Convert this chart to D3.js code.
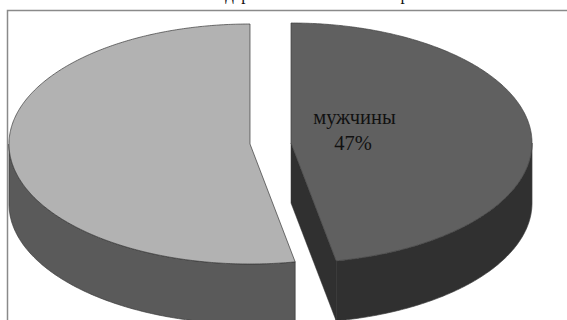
<!DOCTYPE html>
<html>
<head>
<meta charset="utf-8">
<script src="https://cdn.jsdelivr.net/npm/d3@7"></script>
<style>
html,body{margin:0;padding:0;background:#fff;overflow:hidden}
svg{display:block}
text{font-family:"Liberation Serif",serif;fill:#111}
</style>
</head>
<body>
<script>
// Share of respondents by gender
const categories = ["мужчины", "женщины"];
const shares = [47, 53];
const labelledCategories = ["мужчины"];
const topColours = ["#606060", "#b2b2b2"];
const wallColours = ["#303030", "#5a5a5a"];
const strokeColours = ["#404040", "#3a3a3a"];
const chartTitle = "Гендерный состав жителей района";

const W = 567, H = 320;
const rx = 241, ry = 120, depth = 60;
const centres = [{cx: 291, cy: 143}, {cx: 250, cy: 144}];

const svg = d3.select("body").append("svg").attr("width", W).attr("height", H);

// Clipped heading above the plot frame
svg.append("text").attr("x", 200).attr("y", 0).attr("font-size", 17).text(chartTitle);

// Plot frame: only its left and top sides fall inside the page
svg.append("path")
  .attr("d", d3.line()([[7.5, H], [7.5, 10.5], [W, 10.5]]))
  .attr("fill", "none").attr("stroke", "#8a8a8a").attr("stroke-width", 1.5);

const slices = d3.pie().sort(null).value(d => d)(shares);

// Pie angles run clockwise from twelve o'clock and are tilted into an ellipse
const xUnit = d3.scaleLinear().domain([-1, 1]).range([-rx, rx]);
const yUnit = d3.scaleLinear().domain([-1, 1]).range([-ry, ry]);
const rim = (c, a, drop = 0) => [c.cx + xUnit(Math.sin(a)), c.cy + yUnit(-Math.cos(a)) + drop];
const arcPoints = (c, a0, a1, drop = 0) => {
  const n = Math.ceil(Math.abs(a1 - a0) / 0.01);
  return d3.range(n + 1).map(i => rim(c, a0 + (a1 - a0) * i / n, drop));
};
const line = d3.line();
const closed = pts => line(pts) + "Z";

slices.forEach((s, i) => {
  const c = centres[i];
  const g = svg.append("g");
  const wallFill = wallColours[i], stroke = strokeColours[i];
  const centre = [c.cx, c.cy];

  // Outer wall: only the part of the rim that faces the viewer
  const wallStart = Math.max(s.startAngle, Math.PI / 2);
  const wallEnd = Math.min(s.endAngle, 3 * Math.PI / 2);
  const upper = arcPoints(c, wallStart, wallEnd);
  const lower = arcPoints(c, wallEnd, wallStart, depth);
  g.append("path").attr("d", closed(upper.concat(lower)))
    .attr("fill", wallFill).attr("stroke", stroke).attr("stroke-width", 0.7);

  // Cut face, visible when the slice's closing edge turns toward the viewer
  if (i === 0) {
    const edge = rim(c, s.endAngle);
    g.append("path")
      .attr("d", closed([centre, edge, [edge[0], edge[1] + depth], [c.cx, c.cy + depth]]))
      .attr("fill", wallFill).attr("stroke", wallFill).attr("stroke-width", 0.5);
  }

  // Top surface
  g.append("path")
    .attr("d", closed([centre].concat(arcPoints(c, s.startAngle, s.endAngle))))
    .attr("fill", topColours[i]).attr("stroke", stroke).attr("stroke-width", 0.7);

  if (labelledCategories.includes(categories[i])) {
    g.append("text").attr("x", 354.5).attr("y", 123.5).attr("text-anchor", "middle")
      .attr("font-size", 20.5).text(categories[i]);
    g.append("text").attr("x", 353).attr("y", 149.5).attr("text-anchor", "middle")
      .attr("font-size", 20.5).text(shares[i] + "%");
  }
});
</script>
</body>
</html>
